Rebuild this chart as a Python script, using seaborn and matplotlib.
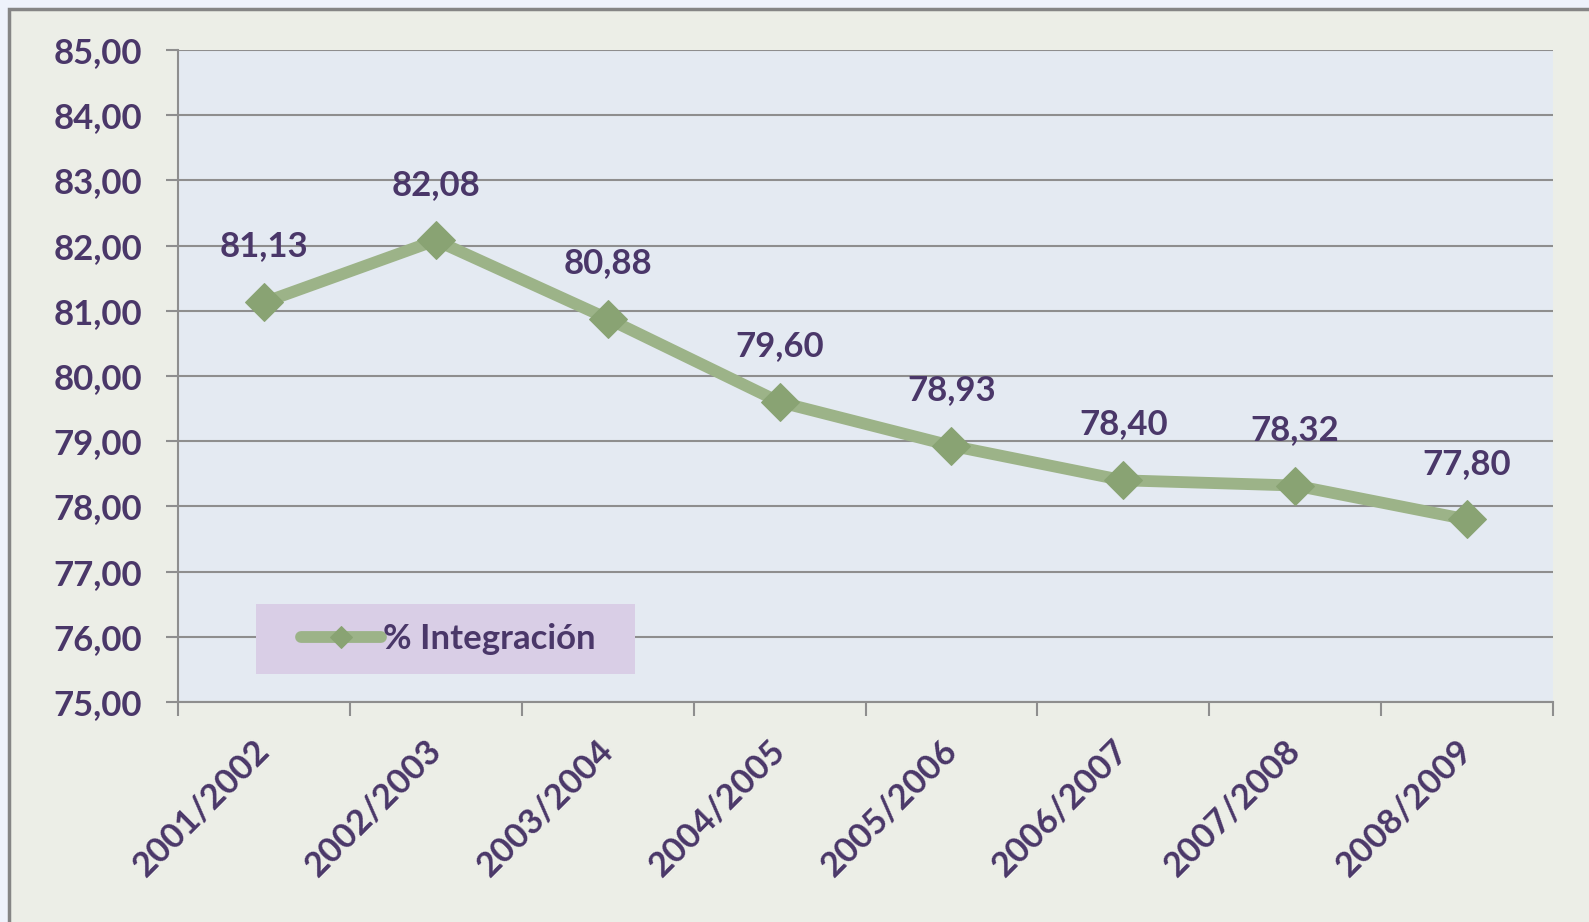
import matplotlib
matplotlib.use("Agg")
import matplotlib.pyplot as plt
from matplotlib.patches import Rectangle
from matplotlib.ticker import FixedLocator
import seaborn as sns
import pandas as pd

periodos = ["2001/2002", "2002/2003", "2003/2004", "2004/2005",
            "2005/2006", "2006/2007", "2007/2008", "2008/2009"]
integracion = [81.13, 82.08, 80.88, 79.60, 78.93, 78.40, 78.32, 77.80]
etiquetas = ["81,13", "82,08", "80,88", "79,60", "78,93", "78,40", "78,32", "77,80"]
yticks = [75, 76, 77, 78, 79, 80, 81, 82, 83, 84, 85]
serie = "% Integración"

TXT = "#4A3769"
LINE = "#9CB388"
MARK = "#89A373"
GRID = "#8E8E8E"
FS = 25

sns.set_style("white")
plt.rcParams["font.family"] = ["Lato", "DejaVu Sans"]
plt.rcParams["font.weight"] = "bold"

W, H = 1589, 922
fig = plt.figure(figsize=(W / 100, H / 100), dpi=100)
fig.patch.set_facecolor("#EEF2FB")
fig.patches.append(Rectangle((9 / W, -0.05), 1.1, 1 - 9 / H + 0.05,
                             transform=fig.transFigure, facecolor="#ECEEE7",
                             edgecolor="#858585", linewidth=2.5, zorder=-10))

ax = fig.add_axes([178 / W, 1 - 702 / H, (1553 - 178) / W, (702 - 50) / H])
ax.set_zorder(5)
ax.set_facecolor("#E4EAF2")

df = pd.DataFrame({"periodo": periodos, "valor": integracion})
df["x"] = range(len(periodos))
sns.lineplot(data=df, x="x", y="valor", ax=ax, color=LINE, linewidth=8.5,
             marker="D", markersize=19, markerfacecolor=MARK,
             markeredgecolor=MARK, label=serie, zorder=3)

for xi, v, t in zip(df["x"], integracion, etiquetas):
    ax.annotate(t, (xi, v), xytext=(0, 33), textcoords="offset points",
                ha="center", va="baseline", fontsize=FS, color=TXT,
                fontweight="bold")

ax.set_xlim(-0.5, len(periodos) - 0.5)
ax.set_ylim(75, 85)
ax.set_yticks(yticks)
ax.set_yticklabels([f"{v},00" for v in yticks])
ax.yaxis.grid(True, color=GRID, linewidth=1.5)
ax.set_axisbelow(True)

ax.set_xticks(range(len(periodos)))
ax.set_xticklabels(periodos, rotation=45, ha="right", va="center",
                   rotation_mode="anchor")
ax.xaxis.set_minor_locator(FixedLocator([i - 0.5 for i in range(len(periodos) + 1)]))
ax.tick_params(axis="x", which="major", length=0, pad=31, labelsize=FS,
               labelcolor=TXT)
ax.tick_params(axis="x", which="minor", length=10, width=1.5, color=GRID,
               direction="out", bottom=True)
ax.tick_params(axis="y", length=9, width=1.5, color=GRID, pad=17,
               labelsize=FS, labelcolor=TXT, left=True)
for lab in ax.get_xticklabels() + ax.get_yticklabels():
    lab.set_fontweight("bold")

for s in ["top", "right"]:
    ax.spines[s].set_visible(False)
for s in ["left", "bottom"]:
    ax.spines[s].set_color(GRID)
    ax.spines[s].set_linewidth(1.5)

ax.set_xlabel("")
ax.set_ylabel("")

# legend box
ax.add_patch(Rectangle((78 / 1375, 28 / 652), 379 / 1375, 70 / 652,
                       transform=ax.transAxes, facecolor="#D9CEE6",
                       edgecolor="none", zorder=4))
leg = ax.legend(loc="center left", bbox_to_anchor=(123 / 1375, 63 / 652),
                borderaxespad=0, borderpad=0, frameon=False,
                fontsize=FS, handlelength=2.3, handletextpad=0.05,
                markerscale=0.6)
leg.set_zorder(6)
for t in leg.get_texts():
    t.set_color(TXT)
    t.set_fontweight("bold")

fig.savefig("out.png", dpi=100, facecolor=fig.get_facecolor())
